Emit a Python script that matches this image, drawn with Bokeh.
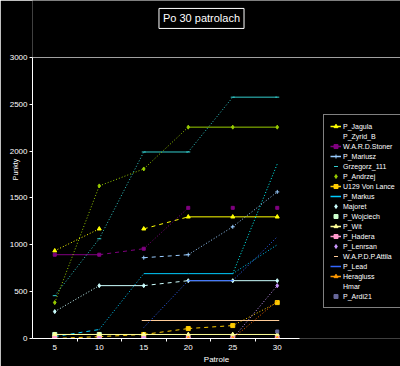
import math
from bokeh.plotting import figure
from bokeh.models import Range1d, FixedTicker, Legend, LegendItem, ColumnDataSource, Label
from bokeh.embed import file_html
from bokeh.resources import INLINE

nan = float("nan")

# ---- data ----
categories = ["5", "10", "15", "20", "25", "30"]
y_ticks = [0, 500, 1000, 1500, 2000, 2500, 3000]
title_text = "Po 30 patrolach"
x_title = "Patrole"
y_title = "Punkty"

names = ["P_Jagula", "P_Zyrid_B", "W.A.R.D.Stoner", "P_Mariusz", "Grzegorz_111",
         "P_Andrzej", "U129 Von Lance", "P_Markus", "Majoret", "P_Wojciech",
         "P_Wit", "P_Hadera", "P_Lenrsan", "W.A.P.D.P.Attila", "P_Lead",
         "Heragluss", "Hmar", "P_Ardi21"]

p_jagula = [936, 1170, 1170, 1298, 1298, 1298]
p_zyrid_b = [nan, nan, nan, nan, 692, 1862]
ward_stoner = [894, 894, 958, 1394, 1394, 1394]
p_mariusz = [nan, nan, 862, 894, 1192, 1564]
grzegorz_111 = [457, 1064, 1990, 1990, 2575, 2575]
p_andrzej = [383, 1628, 1809, 2255, 2255, 2255]
u129 = [0, 20, 43, 106, 138, 383]
p_markus = [20, 96, 692, 692, 692, 1000]
majoret = [287, 564, 564, 617, 617, 617]
p_wojciech = [43, 43, nan, nan, nan, nan]
p_wit = [43, 43, 43, 43, 43, 43]
p_hadera = [0, 0, 0, 0, 0, 0]
p_lenrsan = [nan, 0, 0, 0, 0, 564]
wapdp_attila = [nan, nan, 192, 192, 192, 192]
p_lead = [nan, nan, 117, 617, 617, 1085]
heragluss = [nan, nan, nan, 0, 0, 0]
hmar = [nan, nan, nan, nan, 0, 400]
p_ardi21 = [nan, nan, nan, nan, nan, 75]

values = [p_jagula, p_zyrid_b, ward_stoner, p_mariusz, grzegorz_111, p_andrzej,
          u129, p_markus, majoret, p_wojciech, p_wit, p_hadera, p_lenrsan,
          wapdp_attila, p_lead, heragluss, hmar, p_ardi21]

# ---- styles: (color, marker, marker size, legend kind, skipped segments) ----
styles = [
    ("#FFFF00", "triangle", 4, "line", [1]),
    ("#00FFFF", None, 0, "none", []),
    ("#800080", "square", 3, "line", [3, 4]),
    ("#99CCFF", "cross", 4, "line", []),
    ("#33CCCC", "dash", 4, "marker", []),
    ("#99CC00", "diamond", 4, "marker", []),
    ("#FFCC00", "square", 4, "line", []),
    ("#00CCFF", None, 0, "line", []),
    ("#CCFFFF", "diamond", 4, "marker", []),
    ("#CCFFCC", "square", 4, "marker", []),
    ("#FFFF99", "triangle", 4, "line", []),
    ("#FF99CC", "square", 4, "line", []),
    ("#CC99FF", "diamond", 4, "marker", []),
    ("#FFCC99", "dash", 4, "marker", []),
    ("#3366FF", None, 0, "line", []),
    ("#FF9900", "triangle", 4, "line", []),
    ("#FF6600", None, 0, "none", []),
    ("#666699", "square", 3, "marker", []),
]

xs = list(range(1, len(categories) + 1))

# Frame covers the whole canvas except the axis panels, so that the title and the
# legend (drawn inside the frame) are not clipped. Axis lines are bounded to the data area.
W, H = 400, 366
LEFT, BOTTOM = 32, 27
cat_px = 44.5            # width of one category
y_top_px = 57            # pixel row of the 3000 line
y_max = y_ticks[-1]
x_end = 0.5 + (W - LEFT) / cat_px
y_end = y_max * (H - BOTTOM) / (H - BOTTOM - y_top_px)

def px_x(px):
    return 0.5 + (px - LEFT) / cat_px

def px_y(py):
    return (H - BOTTOM - py) * y_max / (H - BOTTOM - y_top_px)

p = figure(width=W, height=H, output_backend="svg", toolbar_location=None,
           x_range=Range1d(0.5, x_end), y_range=Range1d(0, y_end),
           min_border_left=LEFT, min_border_right=0, min_border_top=0, min_border_bottom=BOTTOM,
           background_fill_color="black", border_fill_color="black", outline_line_color=None)
p.xgrid.visible = False
p.ygrid.ticker = FixedTicker(ticks=[y_max])
p.ygrid.bounds = (0.5, len(categories) + 0.5)
p.ygrid.grid_line_color = "#A0A0A0"
p.ygrid.grid_line_width = 1

items = []
for name, vals, (color, marker, msize, kind, gaps) in zip(names, values, styles):
    groups = {"solid": dict(x0=[], y0=[], x1=[], y1=[]),
              "4 4": dict(x0=[], y0=[], x1=[], y1=[]),
              "1 2": dict(x0=[], y0=[], x1=[], y1=[])}
    for i in range(len(vals) - 1):
        a, b = vals[i], vals[i + 1]
        if math.isnan(a) or math.isnan(b) or i in gaps:
            continue
        d = abs(b - a)
        key = "solid" if d == 0 else ("4 4" if d < 150 else "1 2")
        g = groups[key]
        g["x0"].append(xs[i]); g["y0"].append(a)
        g["x1"].append(xs[i + 1]); g["y1"].append(b)
    for key, g in groups.items():
        if g["x0"]:
            p.segment("x0", "y0", "x1", "y1", source=ColumnDataSource(g),
                      line_color=color, line_width=1, line_dash=key)
    rends = []
    if kind == "line":
        rends.append(p.line([nan, nan], [nan, nan], line_color=color, line_width=1.5))
    if marker is not None:
        pts = [(x, v) for x, v in zip(xs, vals) if not math.isnan(v)]
        m = p.scatter([q[0] for q in pts], [q[1] for q in pts], marker=marker, size=msize,
                      fill_color=color, line_color=color, line_width=1)
        rends.append(m)
    if kind == "none" or not rends:
        rends = [p.line([nan, nan], [nan, nan], line_alpha=0)]
    items.append(LegendItem(label=name, renderers=rends))

# axes
xa = p.xaxis[0]
xa.bounds = (0.5, len(categories) + 0.5)
xa.ticker = FixedTicker(ticks=xs, minor_ticks=[x + 0.5 for x in xs[:-1]])
xa.major_label_overrides = {x: c for x, c in zip(xs, categories)}
xa.axis_line_color = "white"
xa.major_tick_in = 0
xa.major_tick_out = 0
xa.minor_tick_in = 0
xa.minor_tick_out = 3
xa.minor_tick_line_color = "white"
xa.major_label_text_color = "white"
xa.major_label_text_font = "Liberation Sans"
xa.major_label_text_font_size = "8px"
xa.major_label_standoff = 3
xa.axis_label = x_title
xa.axis_label_text_color = "white"
xa.axis_label_text_font = "Liberation Sans"
xa.axis_label_text_font_size = "8px"
xa.axis_label_text_font_style = "normal"
xa.axis_label_standoff = 2

ya = p.yaxis[0]
ya.bounds = (0, y_max)
ya.ticker = FixedTicker(ticks=y_ticks)
ya.axis_line_color = "white"
ya.major_tick_line_color = "white"
ya.major_tick_in = 0
ya.major_tick_out = 3
ya.minor_tick_line_color = None
ya.major_label_text_color = "white"
ya.major_label_text_font = "Liberation Sans"
ya.major_label_text_font_size = "8px"
ya.major_label_standoff = 2
ya.axis_label = y_title
ya.axis_label_text_color = "white"
ya.axis_label_text_font = "Liberation Sans"
ya.axis_label_text_font_size = "7px"
ya.axis_label_text_font_style = "normal"
ya.axis_label_standoff = -12

# title box (inside the frame area above the data)
p.add_layout(Label(text=title_text, x=px_x(201), y=px_y(18), text_align="center",
                   text_baseline="middle", text_color="white", text_font="Liberation Sans",
                   text_font_size="11px", border_line_color="white", border_line_width=1,
                   background_fill_color="black", padding=4))

legend = Legend(items=items, location=(323 - LEFT, H - BOTTOM - 309),
                background_fill_color="black",
                background_fill_alpha=1, border_line_color="white", border_line_width=1,
                label_text_color="white", label_text_font="Liberation Sans",
                label_text_font_size="7px", glyph_width=11, glyph_height=10,
                label_height=10, label_standoff=2, spacing=0, padding=6, margin=0)
p.add_layout(legend)

open("out.html", "w").write(file_html(p, INLINE))
